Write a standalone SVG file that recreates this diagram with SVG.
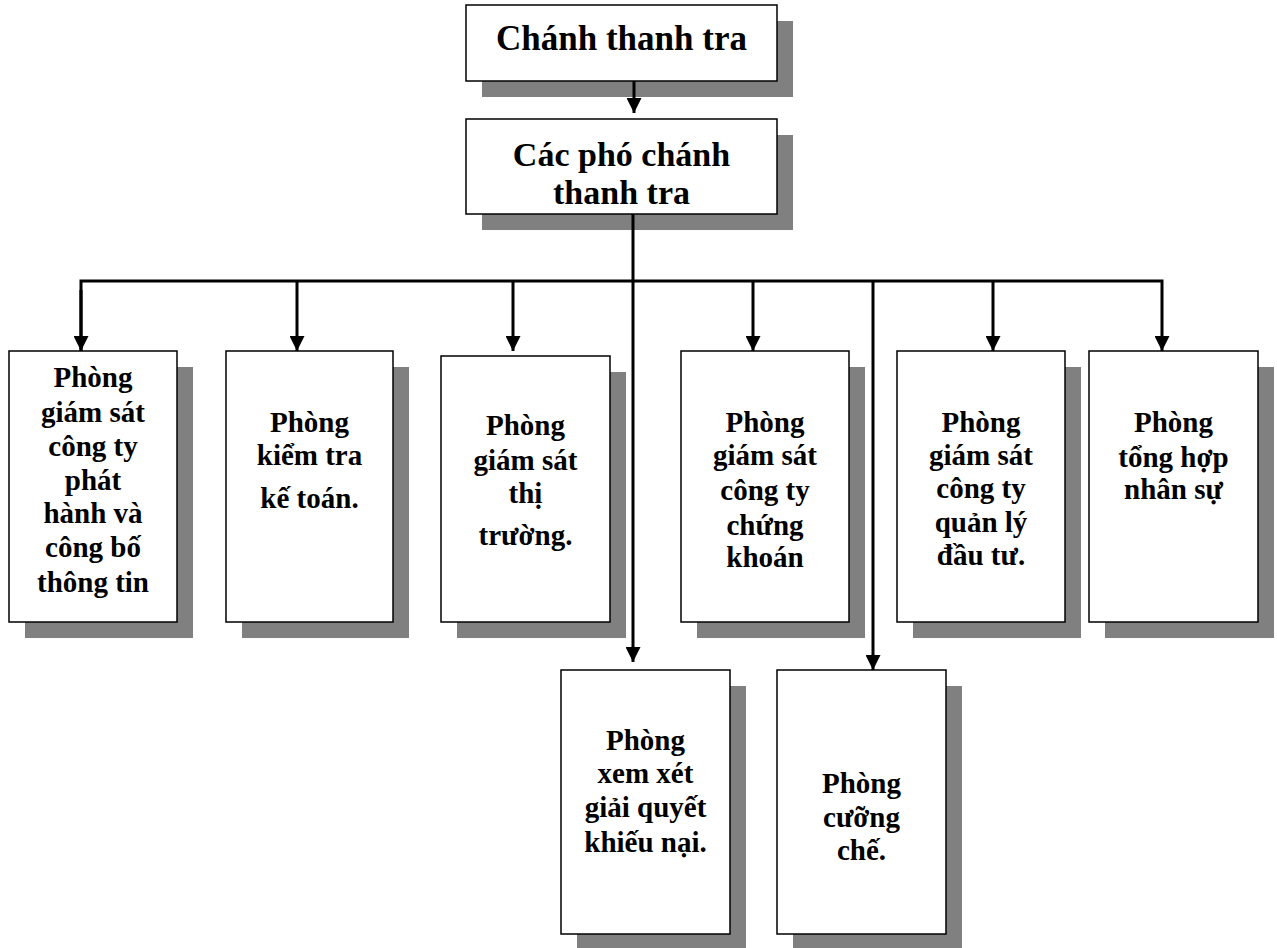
<svg xmlns="http://www.w3.org/2000/svg" width="1277" height="948" viewBox="0 0 1277 948">
  <style>
    .box { fill: #ffffff; stroke: #000000; stroke-width: 1.5; }
    .shadow { fill: #808080; stroke: none; }
    .t { font-family: "Liberation Serif", "Times New Roman", serif; font-weight: bold; fill: #000000; text-anchor: middle; }
    .big { font-size: 35px; }
    .mid { font-size: 34px; }
    .small { font-size: 29px; }
    .wire { fill: none; stroke: #000000; stroke-width: 3; }
  </style>
  <defs>
    <marker id="arrow" markerUnits="userSpaceOnUse" markerWidth="15" markerHeight="15" refX="15" refY="7.5" orient="auto">
      <path d="M0,0 L15,7.5 L0,15 Z" fill="#000000"/>
    </marker>
  </defs>
  <rect width="1277" height="948" fill="#ffffff"/>

  <!-- Chief inspector -->
  <g id="chanh-thanh-tra">
    <rect class="shadow" x="482" y="21" width="311" height="76"/>
    <rect class="box" x="466" y="5" width="311" height="76"/>
    <text class="t big" x="621.5" y="50">Chánh thanh tra</text>
  </g>

  <!-- Deputy chief inspectors -->
  <g id="pho-chanh-thanh-tra">
    <rect class="shadow" x="482" y="135" width="311" height="95"/>
    <rect class="box" x="466" y="119" width="311" height="95"/>
    <text class="t mid" x="621.5" y="166">Các phó chánh</text>
    <text class="t mid" x="621.5" y="204">thanh tra</text>
  </g>

  <!-- Departments, upper row -->
  <g id="phong-phat-hanh">
    <rect class="shadow" x="25" y="367" width="168" height="271"/>
    <rect class="box" x="9" y="351" width="168" height="271"/>
    <text class="t small" x="93" y="387">Phòng</text>
    <text class="t small" x="93" y="422">giám sát</text>
    <text class="t small" x="93" y="456">công ty</text>
    <text class="t small" x="93" y="490">phát</text>
    <text class="t small" x="93" y="523">hành và</text>
    <text class="t small" x="93" y="557">công bố</text>
    <text class="t small" x="93" y="592">thông tin</text>
  </g>

  <g id="phong-ke-toan">
    <rect class="shadow" x="242" y="367" width="167" height="271"/>
    <rect class="box" x="226" y="351" width="167" height="271"/>
    <text class="t small" x="309.5" y="432">Phòng</text>
    <text class="t small" x="309.5" y="465">kiểm tra</text>
    <text class="t small" x="309.5" y="508">kế toán.</text>
  </g>

  <g id="phong-thi-truong">
    <rect class="shadow" x="457" y="372" width="169" height="266"/>
    <rect class="box" x="441" y="356" width="169" height="266"/>
    <text class="t small" x="525.5" y="435">Phòng</text>
    <text class="t small" x="525.5" y="470">giám sát</text>
    <text class="t small" x="525.5" y="503">thị</text>
    <text class="t small" x="525.5" y="545">trường.</text>
  </g>

  <g id="phong-chung-khoan">
    <rect class="shadow" x="697" y="367" width="168" height="271"/>
    <rect class="box" x="681" y="351" width="168" height="271"/>
    <text class="t small" x="765" y="432">Phòng</text>
    <text class="t small" x="765" y="465">giám sát</text>
    <text class="t small" x="765" y="500">công ty</text>
    <text class="t small" x="765" y="535">chứng</text>
    <text class="t small" x="765" y="567">khoán</text>
  </g>

  <g id="phong-quan-ly-dau-tu">
    <rect class="shadow" x="913" y="367" width="168" height="271"/>
    <rect class="box" x="897" y="351" width="168" height="271"/>
    <text class="t small" x="981" y="432">Phòng</text>
    <text class="t small" x="981" y="465">giám sát</text>
    <text class="t small" x="981" y="498">công ty</text>
    <text class="t small" x="981" y="532">quản lý</text>
    <text class="t small" x="981" y="565">đầu tư.</text>
  </g>

  <g id="phong-nhan-su">
    <rect class="shadow" x="1105" y="367" width="169" height="271"/>
    <rect class="box" x="1089" y="351" width="169" height="271"/>
    <text class="t small" x="1173.5" y="432">Phòng</text>
    <text class="t small" x="1173.5" y="467">tổng hợp</text>
    <text class="t small" x="1173.5" y="499">nhân sự</text>
  </g>

  <!-- Departments, lower row -->
  <g id="phong-khieu-nai">
    <rect class="shadow" x="577" y="686" width="169" height="264"/>
    <rect class="box" x="561" y="670" width="169" height="264"/>
    <text class="t small" x="645.5" y="750">Phòng</text>
    <text class="t small" x="645.5" y="783">xem xét</text>
    <text class="t small" x="645.5" y="817">giải quyết</text>
    <text class="t small" x="645.5" y="852">khiếu nại.</text>
  </g>

  <g id="phong-cuong-che">
    <rect class="shadow" x="793" y="686" width="169" height="264"/>
    <rect class="box" x="777" y="670" width="169" height="264"/>
    <text class="t small" x="861.5" y="793">Phòng</text>
    <text class="t small" x="861.5" y="827">cưỡng</text>
    <text class="t small" x="861.5" y="860">chế.</text>
  </g>

  <!-- Connectors -->
  <g id="connectors" class="wire">
    <line x1="634" y1="81" x2="634" y2="113" marker-end="url(#arrow)"/>
    <line x1="633" y1="214" x2="633" y2="281"/>
    <polyline points="81,351 81,281 1162,281 1162,351" marker-end="url(#arrow)"/>
    <line x1="81" y1="290" x2="81" y2="351" marker-end="url(#arrow)"/>
    <line x1="297" y1="281" x2="297" y2="351" marker-end="url(#arrow)"/>
    <line x1="513" y1="281" x2="513" y2="351" marker-end="url(#arrow)"/>
    <line x1="753" y1="281" x2="753" y2="351" marker-end="url(#arrow)"/>
    <line x1="993" y1="281" x2="993" y2="351" marker-end="url(#arrow)"/>
    <line x1="633" y1="281" x2="633" y2="662" marker-end="url(#arrow)"/>
    <line x1="873" y1="281" x2="873" y2="670" marker-end="url(#arrow)"/>
  </g>
</svg>
